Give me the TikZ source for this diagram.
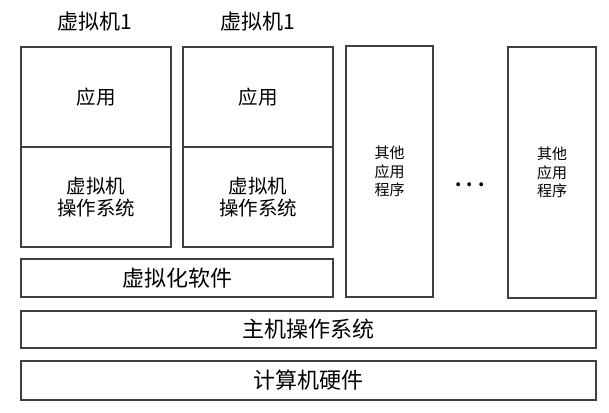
\documentclass[tikz,border=0pt]{standalone}
\usepackage{fontspec}
\setmainfont{Noto Sans CJK SC}
\usetikzlibrary{positioning}

\begin{document}
\begin{tikzpicture}[
    x=1pt, y=-1pt,
    box/.style={draw=black!75, line width=1.3pt, fill=white, inner sep=0pt, align=center, font=\fontsize{19.5}{22}\selectfont},
    wide/.style={box, font=\fontsize{22}{24}\selectfont},
    tall/.style={box, minimum width=87, minimum height=251, font=\fontsize{15}{18.5}\selectfont},
    ttl/.style={font=\fontsize{21}{23}\selectfont}
]
\useasboundingbox[fill=white] (0,0) rectangle (609,412);
% two virtual machines
\node[ttl] (ttlA) at (95,22) {虚拟机1};
\node[ttl] (ttlB) at (258,22) {虚拟机1};
\node[box, minimum width=150, minimum height=100] (appA) at (96,97) {应用};
\node[box, minimum width=150, minimum height=100] (osA) at (96,197) {虚拟机\\操作系统};
\node[box, minimum width=150, minimum height=100] (appB) at (258,97) {应用};
\node[box, minimum width=150, minimum height=100] (osB) at (258,197) {虚拟机\\操作系统};
\node[wide, minimum width=312, minimum height=38] (virt) at (177,278) {虚拟化软件};
% other programs
\node[tall] (other1) at (389.5,171.5) {其他\\应用\\程序};
\node[tall, minimum width=88] (other2) at (552,172.5) {其他\\应用\\程序};
\node[font=\fontsize{18}{20}\bfseries, anchor=base] (dots) at (470,186) {. . .};
% host layers
\node[wide, minimum width=575, minimum height=37] (host) at (308.5,329.5) {主机操作系统};
\node[wide, minimum width=575, minimum height=39] (hw) at (308.5,380.5) {计算机硬件};
\end{tikzpicture}
\end{document}
